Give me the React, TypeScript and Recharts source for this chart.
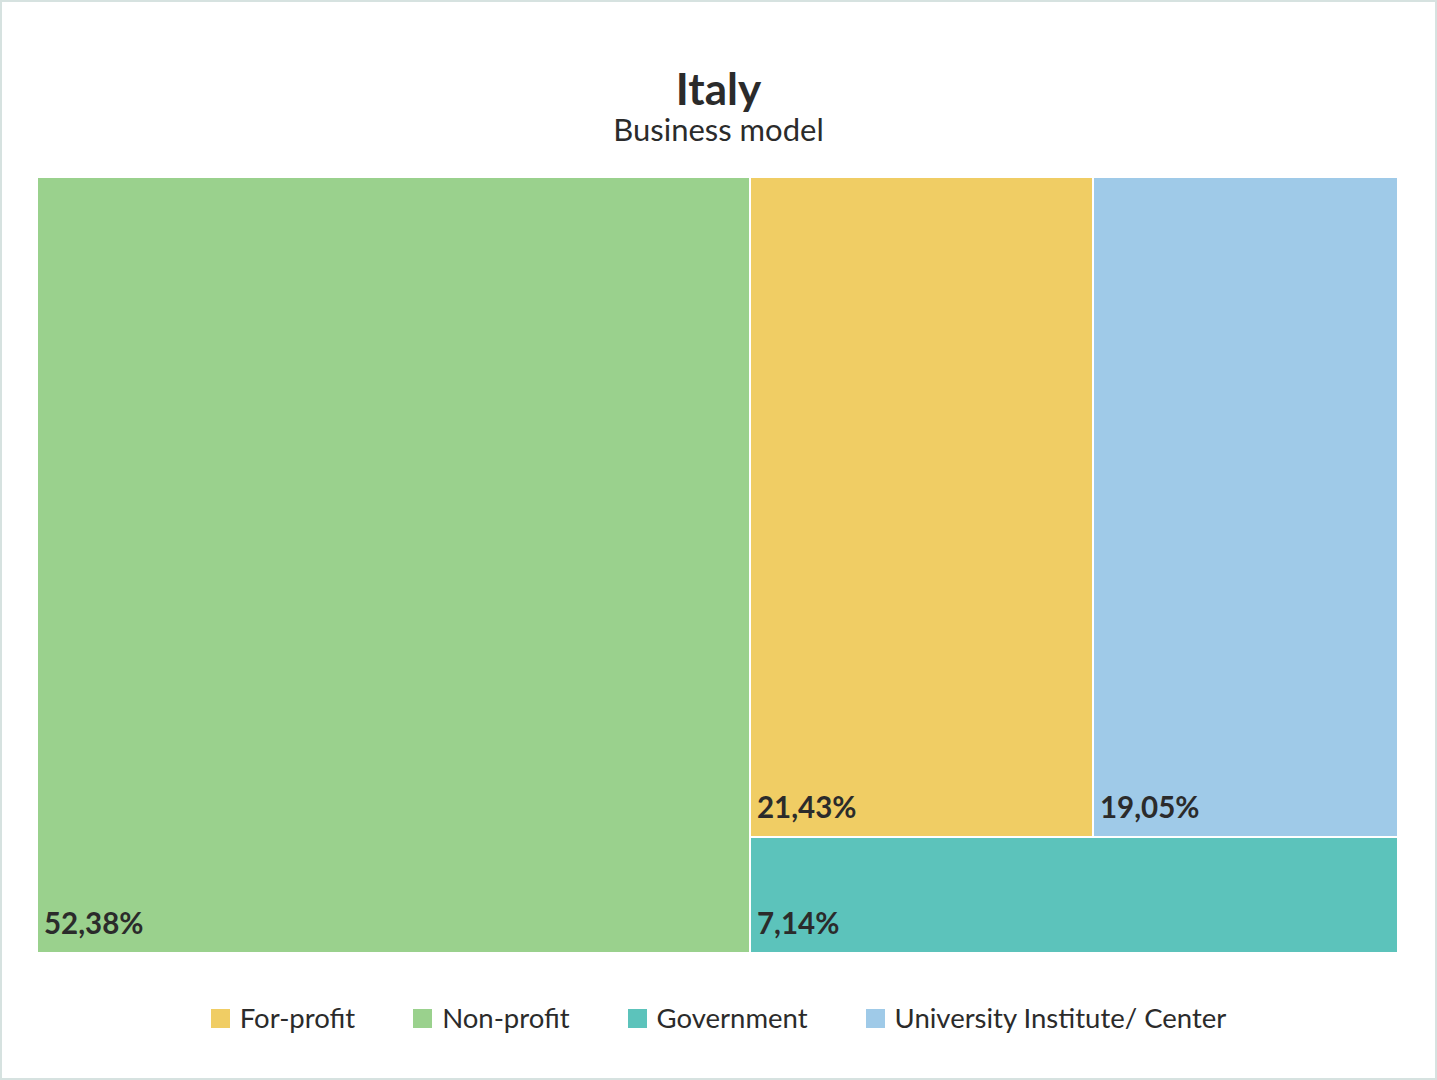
import React from "react";
import { Treemap } from "recharts";

const categories = ["Non-profit", "For-profit", "University Institute/ Center", "Government"];
const shares = [52.38, 21.43, 19.05, 7.14];
const colors = ["#9AD18D", "#F0CD64", "#9FCAE8", "#5CC3BB"];

const legendOrder = ["For-profit", "Non-profit", "Government", "University Institute/ Center"];

const data = categories.map((name, i) => ({ name, value: shares[i], fill: colors[i] }));

const FONT = "Lato, 'Open Sans', sans-serif";

const fmt = (v: number) => v.toFixed(2).replace(".", ",") + "%";

const Cell = (props: any) => {
  const { x, y, width, height, depth, name, value } = props;
  if (depth !== 1) return null;
  const idx = categories.indexOf(name);
  const fill = idx >= 0 ? colors[idx] : "#ccc";
  return (
    <g>
      <rect x={x} y={y} width={width} height={height} fill={fill} stroke="#ffffff" strokeWidth={2} />
      <text
        x={x + 7}
        y={y + height - 19}
        fill="#2b2b2b"
        fontFamily={FONT}
        fontWeight={700}
        fontSize={29.5}
      >
        {fmt(value)}
      </text>
    </g>
  );
};

export default function App() {
  return (
    <div
      style={{
        position: "absolute",
        left: 0,
        top: 0,
        width: 1437,
        height: 1080,
        boxSizing: "border-box",
        border: "2px solid #d6e2e0",
        background: "#fff",
        fontFamily: FONT,
        color: "#2b2b2b",
      }}
    >
      <div
        style={{
          position: "absolute",
          left: 0,
          width: 1433,
          top: 61,
          textAlign: "center",
          fontSize: 44,
          fontWeight: 700,
          lineHeight: "50px",
        }}
      >
        Italy
      </div>
      <div
        style={{
          position: "absolute",
          left: 0,
          width: 1433,
          top: 108,
          textAlign: "center",
          fontSize: 31,
          lineHeight: "38px",
        }}
      >
        Business model
      </div>
      <div style={{ position: "absolute", left: 35, top: 175 }}>
        <Treemap
          width={1361}
          height={776}
          data={data}
          dataKey="value"
          nameKey="name"
          isAnimationActive={false}
          content={<Cell />}
        />
      </div>
      <div
        style={{
          position: "absolute",
          left: 0,
          width: 1433,
          top: 998,
          display: "flex",
          justifyContent: "center",
          alignItems: "center",
          fontSize: 27.5,
          lineHeight: "36px",
        }}
      >
        {legendOrder.map((name, i) => (
          <div
            key={name}
            style={{ display: "flex", alignItems: "center", marginLeft: i === 0 ? 0 : 58 }}
          >
            <span
              style={{
                display: "inline-block",
                width: 19,
                height: 19,
                background: colors[categories.indexOf(name)],
                marginRight: 10,
              }}
            />
            <span>{name}</span>
          </div>
        ))}
      </div>
    </div>
  );
}
